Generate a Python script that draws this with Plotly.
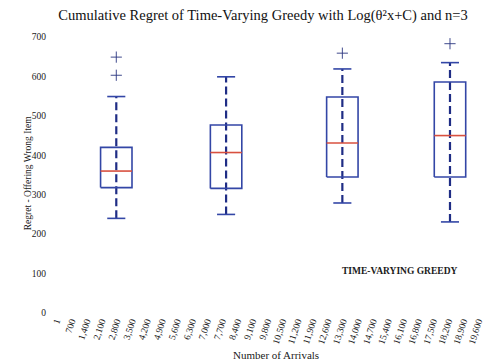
import plotly.graph_objects as go

# ---- data ----
positions = [2800, 7900, 13300, 18300]
q1 = [318, 316, 345, 345]
median = [360, 407, 431, 450]
q3 = [420, 477, 548, 586]
lower = [240, 250, 279, 231]
upper = [549, 599, 619, 635]
outliers = [[649, 603], [], [659], [683]]

tick_values = [1] + [700 * i for i in range(1, 29)]
tick_labels = ["{:,}".format(v) for v in tick_values]
y_ticks = [0, 100, 200, 300, 400, 500, 600, 700]

title = "Cumulative Regret of Time-Varying Greedy with Log(θ²x+C) and n=3"
x_title = "Number of Arrivals"
y_title = "Regret - Offering Wrong Item"
series_name = "TIME-VARYING GREEDY"

BOX_HALF = 730
CAP_HALF = 420
BLUE = "#3346a6"
NAVY = "#1f2d85"
RED = "#d8503f"
FONT = "Liberation Serif"

fig = go.Figure()

for i, p in enumerate(positions):
    # dashed whisker spanning from lower to upper
    fig.add_trace(go.Scatter(
        x=[p, p], y=[lower[i], upper[i]], mode="lines",
        line=dict(color=NAVY, width=2.2, dash="8px,4px"),
        hoverinfo="skip", showlegend=False))
    # caps
    for v in (lower[i], upper[i]):
        fig.add_trace(go.Scatter(
            x=[p - CAP_HALF, p + CAP_HALF], y=[v, v], mode="lines",
            line=dict(color=BLUE, width=1.6),
            hoverinfo="skip", showlegend=False))
    # box
    fig.add_trace(go.Scatter(
        x=[p - BOX_HALF, p + BOX_HALF, p + BOX_HALF, p - BOX_HALF, p - BOX_HALF],
        y=[q1[i], q1[i], q3[i], q3[i], q1[i]], mode="lines",
        line=dict(color=BLUE, width=1.6),
        hoverinfo="skip", showlegend=False))
    # median
    fig.add_trace(go.Scatter(
        x=[p - BOX_HALF, p + BOX_HALF], y=[median[i], median[i]], mode="lines",
        line=dict(color=RED, width=1.6),
        hoverinfo="skip", showlegend=False))
    # outliers
    if outliers[i]:
        fig.add_trace(go.Scatter(
            x=[p] * len(outliers[i]), y=outliers[i], mode="markers",
            marker=dict(symbol="cross-thin", size=8, line=dict(color="#2a3580", width=0.9)),
            hoverinfo="skip", showlegend=False))

fig.update_layout(
    width=487, height=364,
    margin=dict(l=50, r=0, t=37, b=51),
    paper_bgcolor="white", plot_bgcolor="white",
    font=dict(family=FONT, color="#222222", size=9),
    title=dict(text=title, x=0.54, xanchor="center", y=1 - 15 / 364, yanchor="middle",
               font=dict(family=FONT, size=14.5, color="#111111")),
    xaxis=dict(range=[-279, 20019], tickmode="array", tickvals=tick_values,
               ticktext=tick_labels, tickangle=-72, showgrid=False, zeroline=False,
               showline=False, ticks="", tickfont=dict(family=FONT, size=9.5, color="#1a1a1a")),
    yaxis=dict(range=[0, 700], tickmode="array", tickvals=y_ticks, showgrid=False,
               zeroline=False, showline=False, ticks="", ticklabelstandoff=3,
               tickfont=dict(family=FONT, size=9.5, color="#1a1a1a")),
    annotations=[
        dict(text=y_title, xref="paper", yref="paper", x=-0.05, y=0.507,
             textangle=-90, showarrow=False, xanchor="center", yanchor="middle",
             font=dict(family=FONT, size=9.5, color="#1a1a1a")),
        dict(text=x_title, xref="paper", yref="paper", x=0.517, y=-0.152,
             showarrow=False, xanchor="center", yanchor="middle",
             font=dict(family=FONT, size=11, color="#1a1a1a")),
        dict(text="<b>" + series_name + "</b>", xref="paper", yref="paper", x=0.799, y=0.152,
             showarrow=False, xanchor="center", yanchor="middle",
             font=dict(family=FONT, size=9.5, color="#1a1a1a")),
    ],
)

fig.write_html("out.html")
